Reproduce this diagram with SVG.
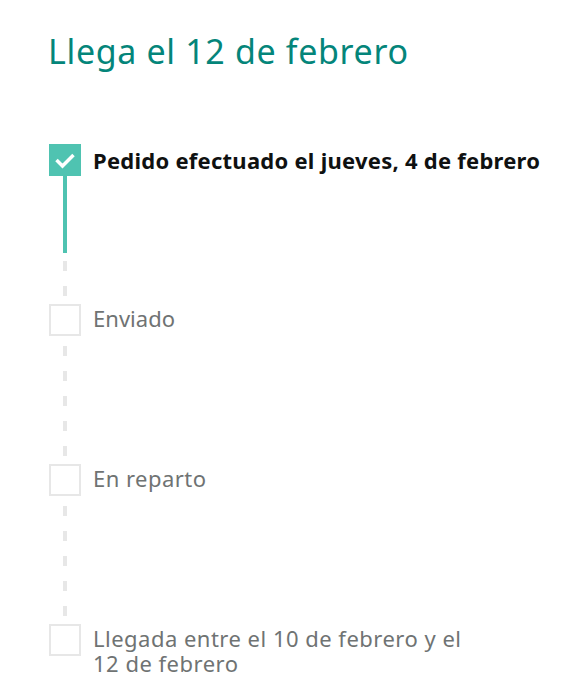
<svg xmlns="http://www.w3.org/2000/svg" width="574" height="679" viewBox="0 0 574 679">
<style>
.t{font-family:"Noto Sans","DejaVu Sans",sans-serif;}
.title{font-size:34px;fill:#04857a;}
.done{font-size:22px;font-weight:bold;fill:#0f1111;}
.todo{font-size:22px;fill:#6f7373;}
.box{fill:#ffffff;stroke:#e7e7e7;stroke-width:2;}
.dash{stroke:#e7e7e7;stroke-width:4;stroke-dasharray:10 15;fill:none;}
</style>
<rect width="574" height="679" fill="#ffffff"/>
<text class="t title" x="48" y="64" textLength="360" lengthAdjust="spacing">Llega el 12 de febrero</text>
<g id="connectors">
<line class="dash" x1="65" y1="186" x2="65" y2="304"/>
<line class="dash" x1="65" y1="346" x2="65" y2="464"/>
<line class="dash" x1="65" y1="506" x2="65" y2="624"/>
<line x1="65" y1="176" x2="65" y2="253" stroke="#4fc3b1" stroke-width="4"/>
</g>
<g id="step1">
<rect x="49" y="144" width="32" height="32" fill="#4fc3b1"/>
<path d="M56.5 160 L62.5 166 L73.5 155" fill="none" stroke="#ffffff" stroke-width="3.5"/>
<text class="t done" x="93" y="169" textLength="447" lengthAdjust="spacing">Pedido efectuado el jueves, 4 de febrero</text>
</g>
<g id="step2">
<rect class="box" x="50" y="305" width="30" height="30"/>
<text class="t todo" x="93" y="327" textLength="82" lengthAdjust="spacing">Enviado</text>
</g>
<g id="step3">
<rect class="box" x="50" y="465" width="30" height="30"/>
<text class="t todo" x="93" y="487" textLength="113" lengthAdjust="spacing">En reparto</text>
</g>
<g id="step4">
<rect class="box" x="50" y="625" width="30" height="30"/>
<text class="t todo" x="93" y="647" textLength="368" lengthAdjust="spacing">Llegada entre el 10 de febrero y el</text>
<text class="t todo" x="93" y="672" textLength="145" lengthAdjust="spacing">12 de febrero</text>
</g>
</svg>
